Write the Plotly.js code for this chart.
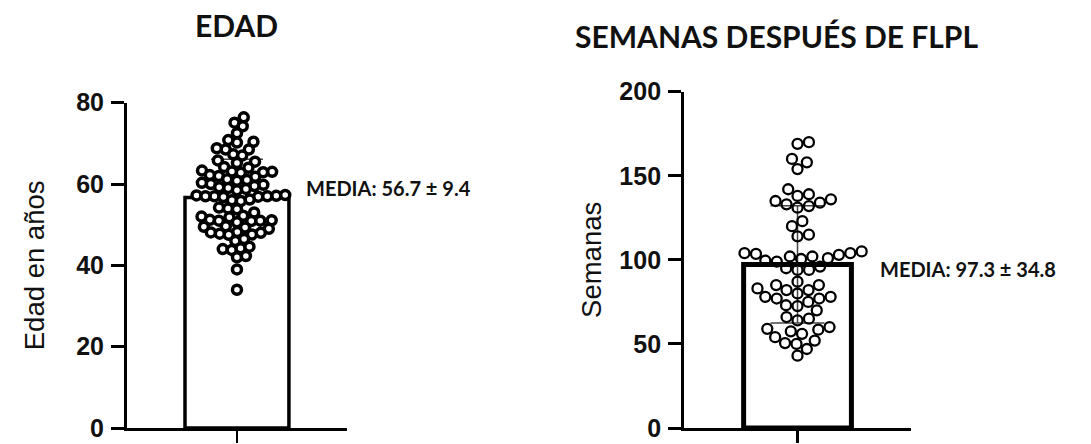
<!DOCTYPE html>
<html>
<head>
<meta charset="utf-8">
<script src="https://cdn.plot.ly/plotly-3.0.1.min.js"></script>
<style>html,body{margin:0;padding:0;background:#fff;}#chart{width:1091px;height:444px;}</style>
</head>
<body>
<div id="chart"></div>
<script>
// ---------- DATA ----------
const panelTitles = ['EDAD', 'SEMANAS DESPUÉS DE FLPL'];
const yAxisTitles = ['Edad en años', 'Semanas'];
const edadTicks = [0, 20, 40, 60, 80];
const semanasTicks = [0, 50, 100, 150, 200];
const means = [56.7, 97.3];
const sds = [9.4, 34.8];
const meanLabel = 'MEDIA';

const edadValues = [
  76.4, 75.1, 74.2, 72.5, 70.2, 70.8, 70.4, 68.5, 68.5, 68.8, 67.3, 67.0,
  65.5, 65.2, 65.8, 64.2, 64.0, 63.3, 63.0, 62.8, 63.1, 62.9, 62.0, 61.8,
  62.2, 61.0, 61.2, 60.8, 60.0, 59.8, 60.3, 59.5, 59.0, 58.8, 59.2, 58.5,
  57.2, 57.0, 56.9, 57.1, 57.0, 56.8, 57.3, 57.0, 56.0, 55.8, 56.2,
  54.0, 54.2, 53.8, 53.0, 52.2, 52.0, 51.8,
  51.2, 51.0, 50.9, 51.1, 50.6, 51.0, 49.5, 49.0, 49.3, 49.6,
  48.0, 48.2, 47.5, 47.8, 47.6, 48.1, 46.0, 46.5,
  44.0, 43.8, 44.2, 44.6, 42.0, 42.3, 39.0, 34.0
];
const semanasValues = [
  170, 169, 160, 158, 154, 142, 135, 138, 136, 139, 134, 133, 132, 131,
  123, 120, 114, 115, 103.5, 103, 104, 104, 105, 102, 101, 99, 99.5, 100.5,
  102, 94, 95, 94, 96, 87, 85, 82, 83, 80, 78, 85, 77, 82, 75, 73, 72.5,
  78, 77, 66, 64, 65, 70, 60, 59, 58.5, 57.5, 56, 52, 54, 50.5, 50, 47, 43
];

// ---------- LAYOUT CONSTANTS ----------
const W = 1091, H = 444;
const dom1x = [0.1164, 0.318], dom1y = [0.036, 0.7687];
const dom2x = [0.627, 0.835], dom2y = [0.036, 0.7935];
const xRange = [-1, 1];

// beeswarm offsets (computed from values in pixel space)
function swarm(values, pxPerX, pxPerY, D) {
  const order = values.map((v, i) => i).sort((a, b) => values[a] - values[b]);
  const placed = [];
  const out = new Array(values.length).fill(0);
  for (const i of order) {
    const y = values[i] * pxPerY;
    const near = placed.filter(p => Math.abs(p.y - y) < D);
    const cands = [0];
    near.forEach(p => {
      const dx = Math.sqrt(D * D - (p.y - y) * (p.y - y));
      cands.push(p.x + dx + 0.01, p.x - dx - 0.01);
    });
    cands.sort((a, b) => Math.abs(a) - Math.abs(b));
    let x = 0;
    for (const c of cands) {
      if (near.every(p => (p.x - c) ** 2 + (p.y - y) ** 2 >= D * D - 0.001)) { x = c; break; }
    }
    placed.push({x, y});
    out[i] = x / pxPerX;
  }
  return out;
}
const px1x = W * (dom1x[1] - dom1x[0]) / (xRange[1] - xRange[0]);
const px1y = H * (dom1y[1] - dom1y[0]) / (edadTicks[edadTicks.length - 1]);
const px2x = W * (dom2x[1] - dom2x[0]) / (xRange[1] - xRange[0]);
const px2y = H * (dom2y[1] - dom2y[0]) / (semanasTicks[semanasTicks.length - 1]);
const edadX = swarm(edadValues, px1x, px1y, 9);
const semanasX = swarm(semanasValues, px2x, px2y, 11.5);

const tickFont = {family: 'Liberation Sans, Arial, sans-serif', size: 25, color: '#111', weight: 'bold'};
const titleFont = {family: 'Liberation Sans, Arial, sans-serif', size: 27.5, color: '#111'};

const traces = [
  {type: 'bar', x: [0], y: [means[0]], width: [0.945], xaxis: 'x', yaxis: 'y',
   marker: {color: '#fff', line: {color: '#000', width: 3.5}},
   error_y: {type: 'data', array: [sds[0]], visible: true, color: '#444', thickness: 1.5, width: 26},
   hoverinfo: 'skip'},
  {type: 'scatter', mode: 'markers', x: edadX, y: edadValues, xaxis: 'x', yaxis: 'y',
   marker: {symbol: 'circle', size: 9, color: '#fff', line: {color: '#000', width: 3.5}}},
  {type: 'bar', x: [0], y: [means[1]], width: [0.95], xaxis: 'x2', yaxis: 'y2',
   marker: {color: '#fff', line: {color: '#000', width: 5}},
   error_y: {type: 'data', array: [sds[1]], visible: true, color: '#444', thickness: 1.5, width: 27},
   hoverinfo: 'skip'},
  {type: 'scatter', mode: 'markers', x: semanasX, y: semanasValues, xaxis: 'x2', yaxis: 'y2',
   marker: {symbol: 'circle', size: 10, color: 'rgba(255,255,255,0)', line: {color: '#000', width: 2.3}}}
];

function xAxis(dom, anchor) {
  return {domain: dom, anchor: anchor, range: xRange, showgrid: false, zeroline: false,
    showline: true, linecolor: '#000', linewidth: 3, ticks: 'outside', ticklen: 12, tickwidth: 2.5,
    tickcolor: '#000', tickvals: [0], ticktext: [''], fixedrange: true};
}
function yAxis(dom, anchor, ticks, title, standoff) {
  return {domain: dom, anchor: anchor, range: [0, ticks[ticks.length - 1]], showgrid: false, zeroline: false,
    showline: true, linecolor: '#000', linewidth: 3, ticks: 'outside', ticklen: 13, tickwidth: 3,
    tickcolor: '#000', tickvals: ticks, ticktext: ticks.map(String), tickfont: tickFont, ticklabelstandoff: 2,
    title: {text: title, font: titleFont, standoff: standoff}, fixedrange: true};
}

const layout = {
  width: W, height: H, margin: {l: 0, r: 0, t: 0, b: 0},
  paper_bgcolor: '#fff', plot_bgcolor: 'rgba(0,0,0,0)', showlegend: false,
  xaxis: xAxis(dom1x, 'y'), yaxis: yAxis(dom1y, 'x', edadTicks, yAxisTitles[0], 24),
  xaxis2: xAxis(dom2x, 'y2'), yaxis2: yAxis(dom2y, 'x2', semanasTicks, yAxisTitles[1], 10),
  annotations: [
    {text: '<b>' + panelTitles[0] + '</b>', xref: 'paper', yref: 'paper', x: 236 / W, y: 1 - 25 / H,
     xanchor: 'center', yanchor: 'middle', showarrow: false, font: {family: 'Lato, sans-serif', size: 30, color: '#111'}},
    {text: '<b>' + panelTitles[1] + '</b>', xref: 'paper', yref: 'paper', x: 776 / W, y: 1 - 36 / H,
     xanchor: 'center', yanchor: 'middle', showarrow: false, font: {family: 'Lato, sans-serif', size: 30, color: '#111'}},
    {text: '<b>' + meanLabel + ': ' + means[0].toFixed(1) + ' ± ' + sds[0].toFixed(1) + '</b>', xref: 'paper', yref: 'paper',
     x: 304 / W, y: 1 - 188 / H, xanchor: 'left', yanchor: 'middle', showarrow: false,
     font: {family: 'Lato, sans-serif', size: 20, color: '#111'}},
    {text: '<b>' + meanLabel + ': ' + means[1].toFixed(1) + ' ± ' + sds[1].toFixed(1) + '</b>', xref: 'paper', yref: 'paper',
     x: 878 / W, y: 1 - 269 / H, xanchor: 'left', yanchor: 'middle', showarrow: false,
     font: {family: 'Lato, sans-serif', size: 20, color: '#111'}}
  ]
};

Plotly.newPlot('chart', traces, layout, {staticPlot: true, displayModeBar: false});
</script>
</body>
</html>
